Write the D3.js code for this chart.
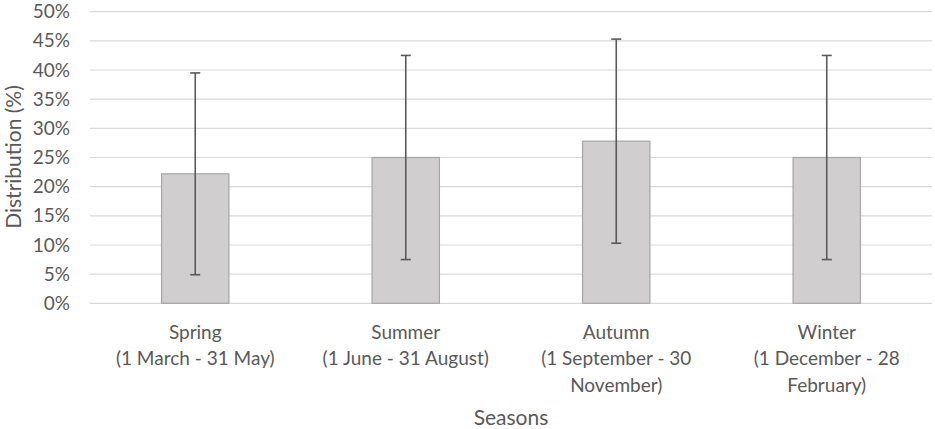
<!DOCTYPE html>
<html><head><meta charset="utf-8">
<script src="https://cdn.jsdelivr.net/npm/d3@7"></script>
<style>
html,body{margin:0;padding:0;background:#fff;}
text{font-family:Lato, "Open Sans", sans-serif;fill:#595959;}
</style></head>
<body><svg id="c" width="935" height="429"></svg>
<script>
const categories = [
  ["Spring", "(1 March - 31 May)"],
  ["Summer", "(1 June - 31 August)"],
  ["Autumn", "(1 September - 30", "November)"],
  ["Winter", "(1 December - 28", "February)"]
];
const values = [22.2, 25.0, 27.8, 25.0];
const errLow = [4.9, 7.5, 10.3, 7.5];
const errHigh = [39.5, 42.5, 45.3, 42.5];
const yTicks = [0, 5, 10, 15, 20, 25, 30, 35, 40, 45, 50];

const svg = d3.select("#c");
const m = {left: 90, right: 3, top: 11.7, bottom: 125.7};
const W = 935, H = 429;
const x = d3.scaleBand().domain(d3.range(categories.length)).range([m.left, W - m.right]).paddingInner(0.68).paddingOuter(0.34);
const y = d3.scaleLinear().domain([0, 50]).range([H - m.bottom, m.top]);

// gridlines
svg.append("g").selectAll("line").data(yTicks).join("line")
  .attr("x1", m.left).attr("x2", W - m.right)
  .attr("y1", d => y(d)).attr("y2", d => y(d))
  .attr("stroke", "#d9d9d9").attr("stroke-width", 1.2);

// y axis labels
const yAxis = d3.axisLeft(y).tickValues(yTicks).tickFormat(d => d + "%").tickSize(0).tickPadding(20);
const ga = svg.append("g").attr("transform", `translate(${m.left},0)`).call(yAxis);
ga.select(".domain").remove();
ga.selectAll("text").attr("font-size", 19).attr("fill", "#595959").style("font-family", "Lato, 'Open Sans', sans-serif");

// bars
svg.append("g").selectAll("rect").data(values).join("rect")
  .attr("x", (d, i) => x(i)).attr("width", x.bandwidth())
  .attr("y", d => y(d)).attr("height", d => y(0) - y(d))
  .attr("fill", "#d0cece").attr("stroke", "#a6a6a6").attr("stroke-width", 1.2);

// error bars
const eg = svg.append("g").attr("stroke", "#595959").attr("stroke-width", 1.6);
values.forEach((v, i) => {
  const cx = x(i) + x.bandwidth() / 2;
  eg.append("line").attr("x1", cx).attr("x2", cx).attr("y1", y(errLow[i])).attr("y2", y(errHigh[i]));
  [errLow[i], errHigh[i]].forEach(e => {
    eg.append("line").attr("x1", cx - 5).attr("x2", cx + 5).attr("y1", y(e)).attr("y2", y(e));
  });
});

// category labels
const cg = svg.append("g");
categories.forEach((lines, i) => {
  const cx = x(i) + x.bandwidth() / 2;
  const t = cg.append("text").attr("text-anchor", "middle").attr("font-size", 19);
  lines.forEach((l, k) => {
    t.append("tspan").attr("x", cx).attr("y", 338.5 + k * 26.5).text(l);
  });
});

// axis titles
svg.append("text").attr("x", (m.left + W - m.right) / 2).attr("y", 425)
  .attr("text-anchor", "middle").attr("font-size", 21).text("Seasons");
svg.append("text").attr("transform", `translate(21,157) rotate(-90)`)
  .attr("text-anchor", "middle").attr("font-size", 21).text("Distribution (%)");
</script></body></html>
